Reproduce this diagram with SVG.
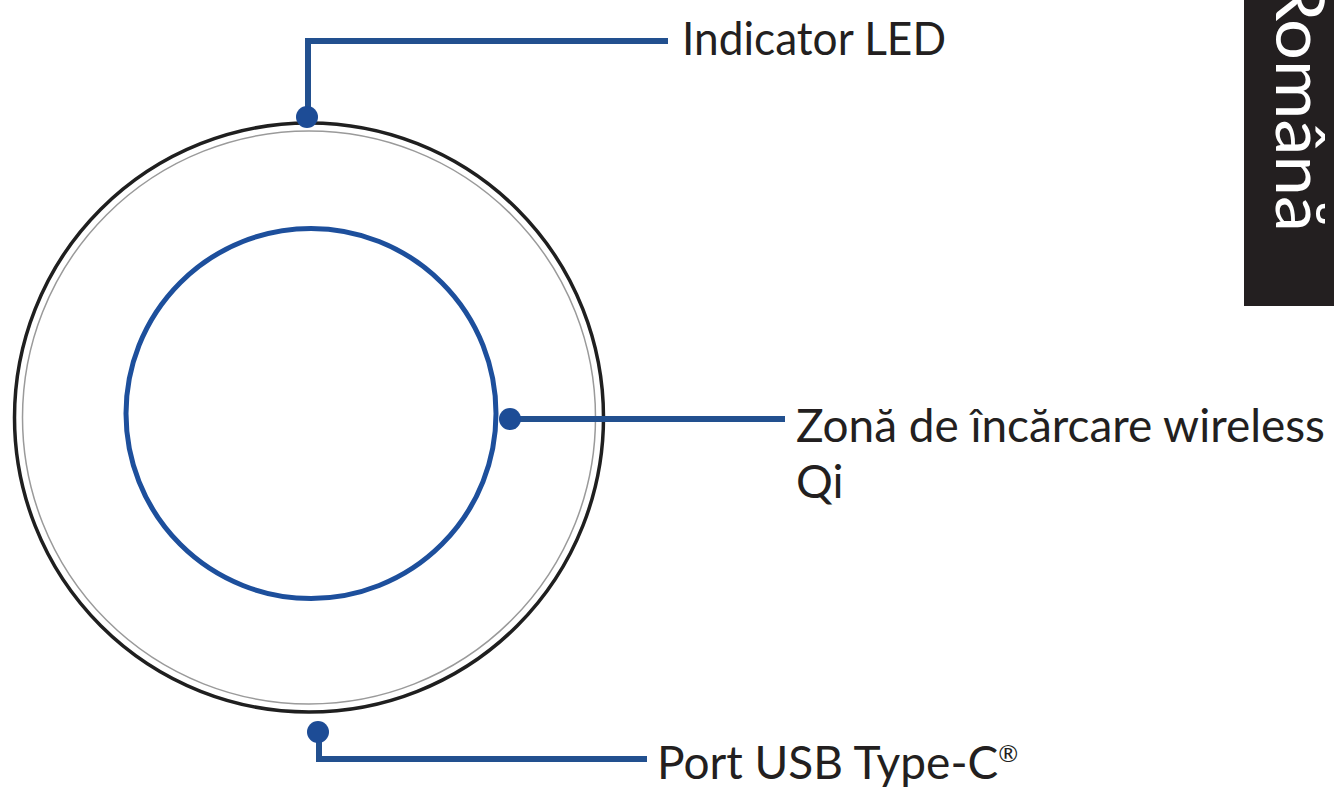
<svg xmlns="http://www.w3.org/2000/svg" width="1334" height="795" viewBox="0 0 1334 795">
<style>
.lbl{font-family:Lato,"Liberation Sans",sans-serif;font-size:46px;fill:#231f20}
.conn{fill:none;stroke:#22508f;stroke-width:6;stroke-linejoin:miter}
.dot{fill:#1d4c96}
</style>
<rect width="1334" height="795" fill="#ffffff"/>
<g id="tab">
<rect x="1244" y="0" width="90" height="306" fill="#231f20"/>
<text transform="translate(1276,-24) rotate(90)" font-family="Lato,'Liberation Sans',sans-serif" font-size="68" fill="#ffffff" textLength="256" lengthAdjust="spacingAndGlyphs">Română</text>
</g>
<g id="charger">
<circle cx="309" cy="417.5" r="294.5" fill="none" stroke="#1f1f1f" stroke-width="3.5"/>
<circle cx="309" cy="417.5" r="286.5" fill="none" stroke="#9a9a9a" stroke-width="1.5"/>
</g>
<g id="qi-zone">
<circle cx="311" cy="413.5" r="185" fill="none" stroke="#1d4f9c" stroke-width="5"/>
</g>
<g id="connectors">
<path class="conn" d="M308,117 V41 H668"/>
<circle class="dot" cx="307" cy="117" r="11"/>
<path class="conn" d="M510,419 H785"/>
<circle class="dot" cx="510" cy="419" r="11"/>
<path class="conn" d="M319,733 V759 H647"/>
<circle class="dot" cx="318" cy="732" r="11"/>
</g>
<g id="label-led">
<text class="lbl" x="682" y="55" textLength="264" lengthAdjust="spacingAndGlyphs">Indicator LED</text>
</g>
<g id="label-qi">
<text class="lbl" x="796" y="442" textLength="529" lengthAdjust="spacingAndGlyphs">Zonă de încărcare wireless</text>
<text class="lbl" x="796" y="498">Qi</text>
</g>
<g id="label-usb">
<text class="lbl" x="657" y="779">Port USB Type-C<tspan font-size="24" dy="-17">®</tspan></text>
</g>
</svg>
